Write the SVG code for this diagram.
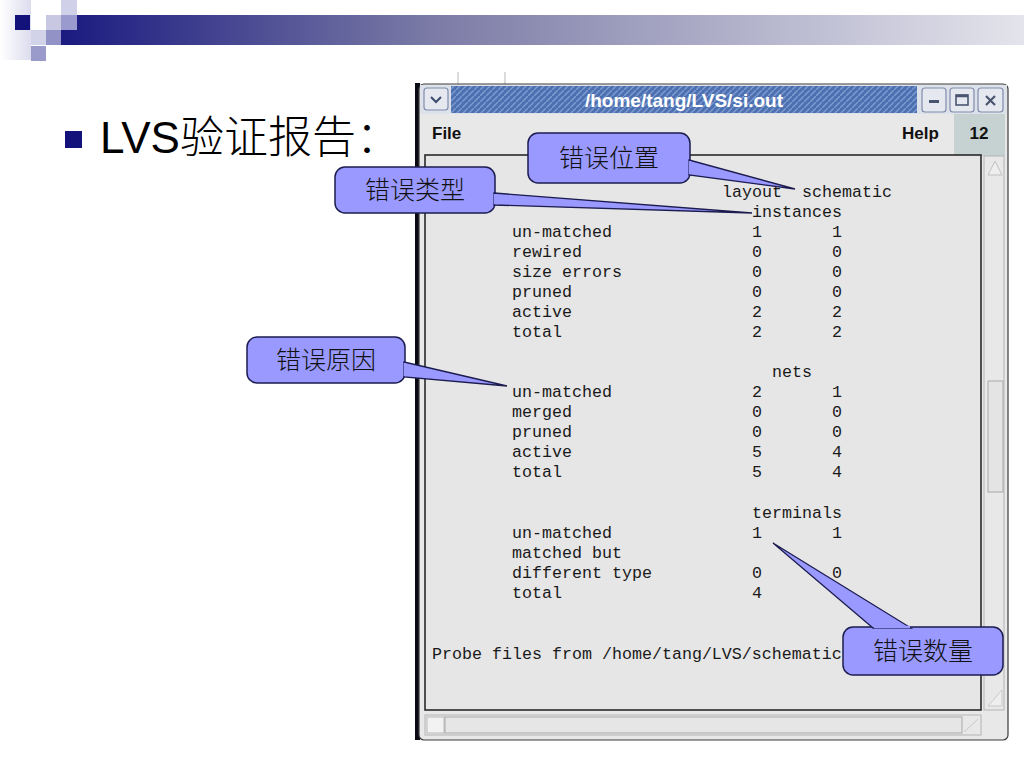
<svg xmlns="http://www.w3.org/2000/svg" width="1024" height="768" viewBox="0 0 1024 768">
<defs>
<linearGradient id="barGrad" x1="0" y1="0" x2="1" y2="0">
<stop offset="0" stop-color="#1a1a80"/>
<stop offset="0.38" stop-color="#7a7aa6"/>
<stop offset="1" stop-color="#e4e4ec"/>
</linearGradient>
<linearGradient id="fadeGrad" x1="0" y1="0" x2="1" y2="0">
<stop offset="0" stop-color="#ffffff"/>
<stop offset="1" stop-color="#dcdcee"/>
</linearGradient>
<pattern id="hatch" patternUnits="userSpaceOnUse" width="6" height="6">
<rect width="6" height="6" fill="#4d71b0"/>
<path d="M-1,7 L7,-1" stroke="#7d9bd0" stroke-width="1.4"/>
</pattern>
<style>
.mono{font-family:"Liberation Mono","DejaVu Sans Mono",monospace;font-size:16.67px;fill:#1a1a1a}
.ui{font-family:"Liberation Sans",Arial,sans-serif;font-weight:bold;font-size:17px;fill:#111}
.call rect{fill:#9999ff;stroke:#1c1c50;stroke-width:1.5}
.call path{fill:#9999ff;stroke:#1c1c50;stroke-width:1.3;stroke-linejoin:miter}
.call text{font-family:"Noto Sans CJK SC",sans-serif;font-weight:300;font-size:25px;fill:#111;text-anchor:middle}
.btn{fill:#e6e8f0;stroke:#7f8cab;stroke-width:1.2}
</style>
</defs>
<rect width="1024" height="768" fill="#ffffff"/>
<g id="header">
<rect x="0" y="0" width="31" height="60" fill="url(#fadeGrad)"/>
<rect x="61" y="15" width="963" height="30" fill="url(#barGrad)"/>
<rect x="15" y="15" width="15" height="15" fill="#12127a"/>
<rect x="46" y="15" width="15" height="15" fill="#c8c8e2"/>
<rect x="61" y="0" width="16" height="15" fill="#d0d0e8"/>
<rect x="61" y="15" width="16" height="15" fill="#9a9ace"/>
<rect x="31" y="30" width="15" height="15" fill="#d2d2e8"/>
<rect x="46" y="30" width="15" height="15" fill="#9292c6"/>
<rect x="31" y="46" width="15" height="15" fill="#9a9acb"/>
</g>
<g id="title">
<rect x="65" y="131" width="17" height="17" fill="#12127a"/>
<text x="100" y="153" font-family="'Liberation Sans',Arial,'Noto Sans CJK SC',sans-serif" font-size="44" fill="#000">LVS<tspan font-family="'Noto Sans CJK SC',sans-serif" font-weight="300">验证报告：</tspan></text>
</g>
<g id="window">
<line x1="458" y1="72" x2="458" y2="85" stroke="#cfcfcf" stroke-width="1.5"/>
<line x1="505" y1="72" x2="505" y2="85" stroke="#cfcfcf" stroke-width="1.5"/>
<rect x="415" y="83" width="5" height="657" fill="#0a0a14"/>
<rect x="419" y="84" width="589" height="656" rx="5" fill="#e8e8e8" stroke="#3a3a3a" stroke-width="1.2"/>
<rect x="420" y="85" width="587" height="29" fill="#dde1ea"/>
<rect x="451" y="86" width="466" height="27" fill="url(#hatch)"/>
<rect x="424" y="88" width="24" height="22" rx="3" class="btn"/>
<path d="M431,97 L436,102 L441,97" fill="none" stroke="#3b4a6b" stroke-width="2"/>
<text x="684" y="107" font-family="'Liberation Sans',Arial,sans-serif" font-weight="bold" font-size="19" fill="#ffffff" text-anchor="middle">/home/tang/LVS/si.out</text>
<rect x="922" y="88" width="24" height="24" rx="3" class="btn"/>
<rect x="929" y="100" width="10" height="3" fill="#4a5570"/>
<rect x="950" y="88" width="24" height="24" rx="3" class="btn"/>
<rect x="956" y="95" width="12" height="10" fill="none" stroke="#4a5570" stroke-width="1.6"/>
<line x1="956" y1="96" x2="968" y2="96" stroke="#4a5570" stroke-width="2.5"/>
<rect x="978" y="88" width="25" height="24" rx="3" class="btn"/>
<path d="M986,96 L995,105 M995,96 L986,105" stroke="#4a5570" stroke-width="2.2"/>
<rect x="420" y="114" width="587" height="42" fill="#e8e8e8"/>
<rect x="954" y="114" width="51" height="42" fill="#c6d2d2"/>
<text x="432" y="139" class="ui">File</text>
<text x="902" y="139" class="ui">Help</text>
<text x="979" y="139" class="ui" text-anchor="middle">12</text>
<rect x="425" y="155" width="556" height="555" fill="#e6e6e6" stroke="#2a2a2a" stroke-width="1.6"/>
<rect x="984" y="156" width="20" height="554" fill="#e8e8e8" stroke="#b4b4b4" stroke-width="1"/>
<path d="M995,161 L1002,175 L988,175 Z" fill="#eeeeee" stroke="#c0c0c0" stroke-width="1"/>
<rect x="988" y="381" width="15" height="111" fill="#e4e4e4" stroke="#a8a8a8" stroke-width="1"/>
<path d="M1002,690 L1002,706 L988,706 Z" fill="#eeeeee" stroke="#c8c8c8" stroke-width="1"/>
<rect x="425" y="715" width="556" height="20" fill="#e8e8e8" stroke="#b4b4b4" stroke-width="1"/>
<rect x="427" y="717" width="17" height="16" fill="#f2f2f2" stroke="#b8b8b8" stroke-width="1"/>
<rect x="445" y="717" width="517" height="16" fill="#e6e6e6" stroke="#a8a8a8" stroke-width="1"/>
<path d="M964,732 L978,719" stroke="#c8c8c8" stroke-width="1"/>
</g>
<g id="report">
<text class="mono" x="722" y="197" xml:space="preserve">layout  schematic</text>
<text class="mono" x="752" y="217">instances</text>
<text class="mono" x="512" y="237">un-matched</text><text class="mono" x="752" y="237">1</text><text class="mono" x="832" y="237">1</text>
<text class="mono" x="512" y="257">rewired</text><text class="mono" x="752" y="257">0</text><text class="mono" x="832" y="257">0</text>
<text class="mono" x="512" y="277">size errors</text><text class="mono" x="752" y="277">0</text><text class="mono" x="832" y="277">0</text>
<text class="mono" x="512" y="297">pruned</text><text class="mono" x="752" y="297">0</text><text class="mono" x="832" y="297">0</text>
<text class="mono" x="512" y="317">active</text><text class="mono" x="752" y="317">2</text><text class="mono" x="832" y="317">2</text>
<text class="mono" x="512" y="337">total</text><text class="mono" x="752" y="337">2</text><text class="mono" x="832" y="337">2</text>
<text class="mono" x="772" y="377">nets</text>
<text class="mono" x="512" y="397">un-matched</text><text class="mono" x="752" y="397">2</text><text class="mono" x="832" y="397">1</text>
<text class="mono" x="512" y="417">merged</text><text class="mono" x="752" y="417">0</text><text class="mono" x="832" y="417">0</text>
<text class="mono" x="512" y="437">pruned</text><text class="mono" x="752" y="437">0</text><text class="mono" x="832" y="437">0</text>
<text class="mono" x="512" y="457">active</text><text class="mono" x="752" y="457">5</text><text class="mono" x="832" y="457">4</text>
<text class="mono" x="512" y="477">total</text><text class="mono" x="752" y="477">5</text><text class="mono" x="832" y="477">4</text>
<text class="mono" x="752" y="518">terminals</text>
<text class="mono" x="512" y="538">un-matched</text><text class="mono" x="752" y="538">1</text><text class="mono" x="832" y="538">1</text>
<text class="mono" x="512" y="558">matched but</text>
<text class="mono" x="512" y="578">different type</text><text class="mono" x="752" y="578">0</text><text class="mono" x="832" y="578">0</text>
<text class="mono" x="512" y="598">total</text><text class="mono" x="752" y="598">4</text>
<text class="mono" x="432" y="659">Probe files from /home/tang/LVS/schematic</text>
</g>
<g id="callout-position" class="call">
<rect x="528" y="133" width="162" height="50" rx="10"/>
<path d="M689,160 L795,189 L689,175 Z"/>
<line x1="690" y1="161" x2="690" y2="174" stroke="#9999ff" stroke-width="2.4"/>
<text x="609" y="167">错误位置</text>
</g>
<g id="callout-type" class="call">
<rect x="335" y="167" width="160" height="46" rx="10"/>
<path d="M494,193 L752,213 L494,205 Z"/>
<line x1="495" y1="194" x2="495" y2="204" stroke="#9999ff" stroke-width="2.4"/>
<text x="415" y="199">错误类型</text>
</g>
<g id="callout-reason" class="call">
<rect x="247" y="337" width="158" height="46" rx="10"/>
<path d="M404,362 L507,386 L404,377 Z"/>
<line x1="405" y1="363" x2="405" y2="376" stroke="#9999ff" stroke-width="2.4"/>
<text x="326" y="369">错误原因</text>
</g>
<g id="callout-count" class="call">
<rect x="843" y="627" width="160" height="48" rx="10"/>
<path d="M873,628 L773,543 L911,628 Z"/>
<line x1="874" y1="627" x2="910" y2="627" stroke="#9999ff" stroke-width="2.4"/>
<text x="923" y="660">错误数量</text>
</g>
</svg>
